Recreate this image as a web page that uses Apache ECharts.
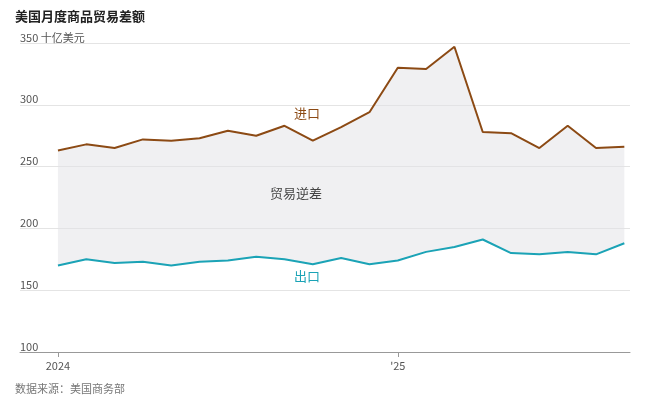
<!DOCTYPE html>
<html><head><meta charset="utf-8">
<script src="https://cdn.jsdelivr.net/npm/echarts@6/dist/echarts.min.js"></script>
<style>html,body{margin:0;background:#fff}#c{width:650px;height:401px}</style>
</head><body><div id="c"></div>
<script>
const months = ['2024-01','2024-02','2024-03','2024-04','2024-05','2024-06','2024-07','2024-08','2024-09','2024-10','2024-11','2024-12','2025-01','2025-02','2025-03','2025-04','2025-05','2025-06','2025-07','2025-08','2025-09'];
const imports = [263,268,265,272,271,273,279,275,283,271,282,294,330,329,347,278,277,265,283,265,266];
const exports_ = [170,175,172,173,170,173,174,177,175,171,176,171,174,181,185,191,180,179,181,179,188];
const font = '"Noto Sans CJK SC", sans-serif';
const idx = months.map((m,i)=>i);
const chart = echarts.init(document.getElementById('c'));
chart.setOption({
  animation:false,
  textStyle:{fontFamily:font},
  title:[{text:'美国月度商品贸易差额',left:10,top:5,textStyle:{fontSize:13,fontWeight:'bold',color:'#222',fontFamily:font}},
         {text:'数据来源：美国商务部',left:10,top:378,textStyle:{fontSize:11,fontWeight:'normal',color:'#777',fontFamily:font}}],
  grid:{left:20,right:20,top:43,bottom:49},
  xAxis:{type:'value',min:-1.34,max:20.2,
    axisLine:{show:true,lineStyle:{color:'#999'}},
    axisTick:{show:true,customValues:[0,12],length:5,lineStyle:{color:'#999'}},
    splitLine:{show:false},
    axisLabel:{customValues:[0,12],formatter:v=>v===0?'2024':"'25",color:'#555',fontSize:11}},
  yAxis:{type:'value',min:100,max:350,interval:50,
    axisLine:{show:false},axisTick:{show:false},
    splitLine:{lineStyle:{color:'#e4e4e4'}},
    axisLabel:{inside:true,verticalAlign:'bottom',margin:0,color:'#555',fontSize:11,
      formatter:v=>v===350?'350 十亿美元':String(v)}},
  series:[
    {type:'custom',silent:true,z:1,data:[0],
     renderItem:(params,api)=>{
       const top = idx.map(i=>api.coord([i,imports[i]]));
       const bot = idx.slice().reverse().map(i=>api.coord([i,exports_[i]]));
       return {type:'polygon',shape:{points:top.concat(bot)},style:{fill:'rgba(225,225,230,0.5)'}};
     }},
    {type:'line',data:idx.map(i=>[i,imports[i]]),symbol:'none',lineStyle:{color:'#8c4a14',width:2},z:5},
    {type:'line',data:idx.map(i=>[i,exports_[i]]),symbol:'none',lineStyle:{color:'#1ba3b6',width:2},z:5}
  ],
  graphic:[
    {type:'text',z:100,left:294,top:107,style:{text:'进口',fill:'#8c4a14',font:'13px '+font}},
    {type:'text',z:100,left:294,top:270,style:{text:'出口',fill:'#1ba3b6',font:'13px '+font}},
    {type:'text',z:100,left:270,top:187,style:{text:'贸易逆差',fill:'#444',font:'13px '+font}}
  ]
});
</script></body></html>
